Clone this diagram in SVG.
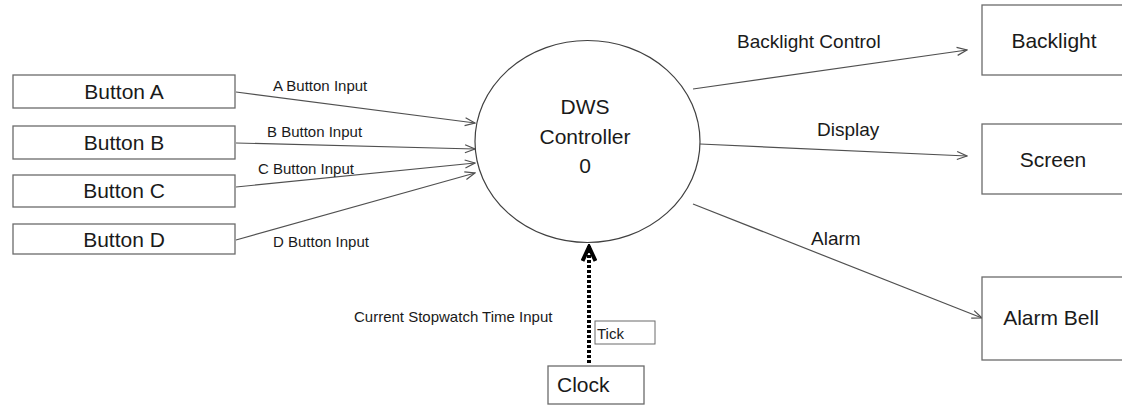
<svg xmlns="http://www.w3.org/2000/svg" width="1122" height="405" viewBox="0 0 1122 405">
<style>
.box{fill:#fff;stroke:#6b6b6b;stroke-width:1.3}
.t{font-family:"Liberation Sans",Arial,sans-serif;fill:#1a1a1a}
.big{font-size:21px}
.mid{font-size:19px}
.sm{font-size:15px}
.flow{fill:none;stroke:#505050;stroke-width:1.2;marker-end:url(#open)}
</style>
<defs>
<marker id="open" viewBox="0 0 12 10" refX="11" refY="5" markerWidth="12" markerHeight="10" markerUnits="userSpaceOnUse" orient="auto">
<path d="M1,1 L11,5 L1,9" fill="none" stroke="#505050" stroke-width="1.2"/>
</marker>
<marker id="thick" viewBox="0 0 20 16" refX="18" refY="8" markerWidth="20" markerHeight="16" markerUnits="userSpaceOnUse" orient="auto">
<path d="M3,1.5 L17,8 L3,14.5" fill="none" stroke="#000" stroke-width="4" stroke-linejoin="miter"/>
</marker>
</defs>
<rect width="1122" height="405" fill="#fff"/>
<g id="connectors">
<path class="flow" d="M236,92 L475,123"/>
<path class="flow" d="M236,143 L475,149"/>
<path class="flow" d="M236,187 L475,163"/>
<path class="flow" d="M236,240 L475,173"/>
<path class="flow" d="M693,89 L967,50"/>
<path class="flow" d="M700,144 L967,156"/>
<path class="flow" d="M693,204 L982,318"/>
<path d="M589,363 L589,246" fill="none" stroke="#000" stroke-width="4" stroke-dasharray="3 2" marker-end="url(#thick)"/>
<text class="t sm" x="273" y="91">A Button Input</text>
<text class="t sm" x="267" y="137">B Button Input</text>
<text class="t sm" x="258" y="174">C Button Input</text>
<text class="t sm" x="273" y="247">D Button Input</text>
<text class="t mid" x="737" y="48">Backlight Control</text>
<text class="t mid" x="817" y="136">Display</text>
<text class="t mid" x="811" y="245">Alarm</text>
<text class="t sm" x="354" y="322">Current Stopwatch Time Input</text>
<rect x="595" y="321" width="60" height="23" fill="#fff" stroke="#6b6b6b" stroke-width="1"/>
<text class="t sm" x="597" y="339">Tick</text>
</g>
<g id="button-a"><rect class="box" x="13" y="75" width="222" height="33"/><text class="t big" x="124" y="99" text-anchor="middle">Button A</text></g>
<g id="button-b"><rect class="box" x="13" y="126" width="222" height="33"/><text class="t big" x="124" y="150" text-anchor="middle">Button B</text></g>
<g id="button-c"><rect class="box" x="13" y="175" width="222" height="32"/><text class="t big" x="124" y="198" text-anchor="middle">Button C</text></g>
<g id="button-d"><rect class="box" x="13" y="224" width="222" height="30"/><text class="t big" x="124" y="247" text-anchor="middle">Button D</text></g>
<g id="controller"><ellipse cx="587.5" cy="141.5" rx="112.5" ry="101" fill="#fff" stroke="#404040" stroke-width="1.2"/>
<text class="t big" x="585" y="114" text-anchor="middle">DWS</text>
<text class="t big" x="585" y="144" text-anchor="middle">Controller</text>
<text class="t big" x="585" y="173" text-anchor="middle">0</text></g>
<g id="backlight"><rect class="box" x="982" y="5" width="145" height="70"/><text class="t big" x="1054" y="48" text-anchor="middle">Backlight</text></g>
<g id="screen"><rect class="box" x="982" y="124" width="145" height="70"/><text class="t big" x="1053" y="167" text-anchor="middle">Screen</text></g>
<g id="alarm-bell"><rect class="box" x="982" y="277" width="145" height="83"/><text class="t big" x="1051" y="325" text-anchor="middle">Alarm Bell</text></g>
<g id="clock"><rect class="box" x="548" y="366" width="96" height="38"/><text class="t big" x="557" y="392">Clock</text></g>
</svg>
